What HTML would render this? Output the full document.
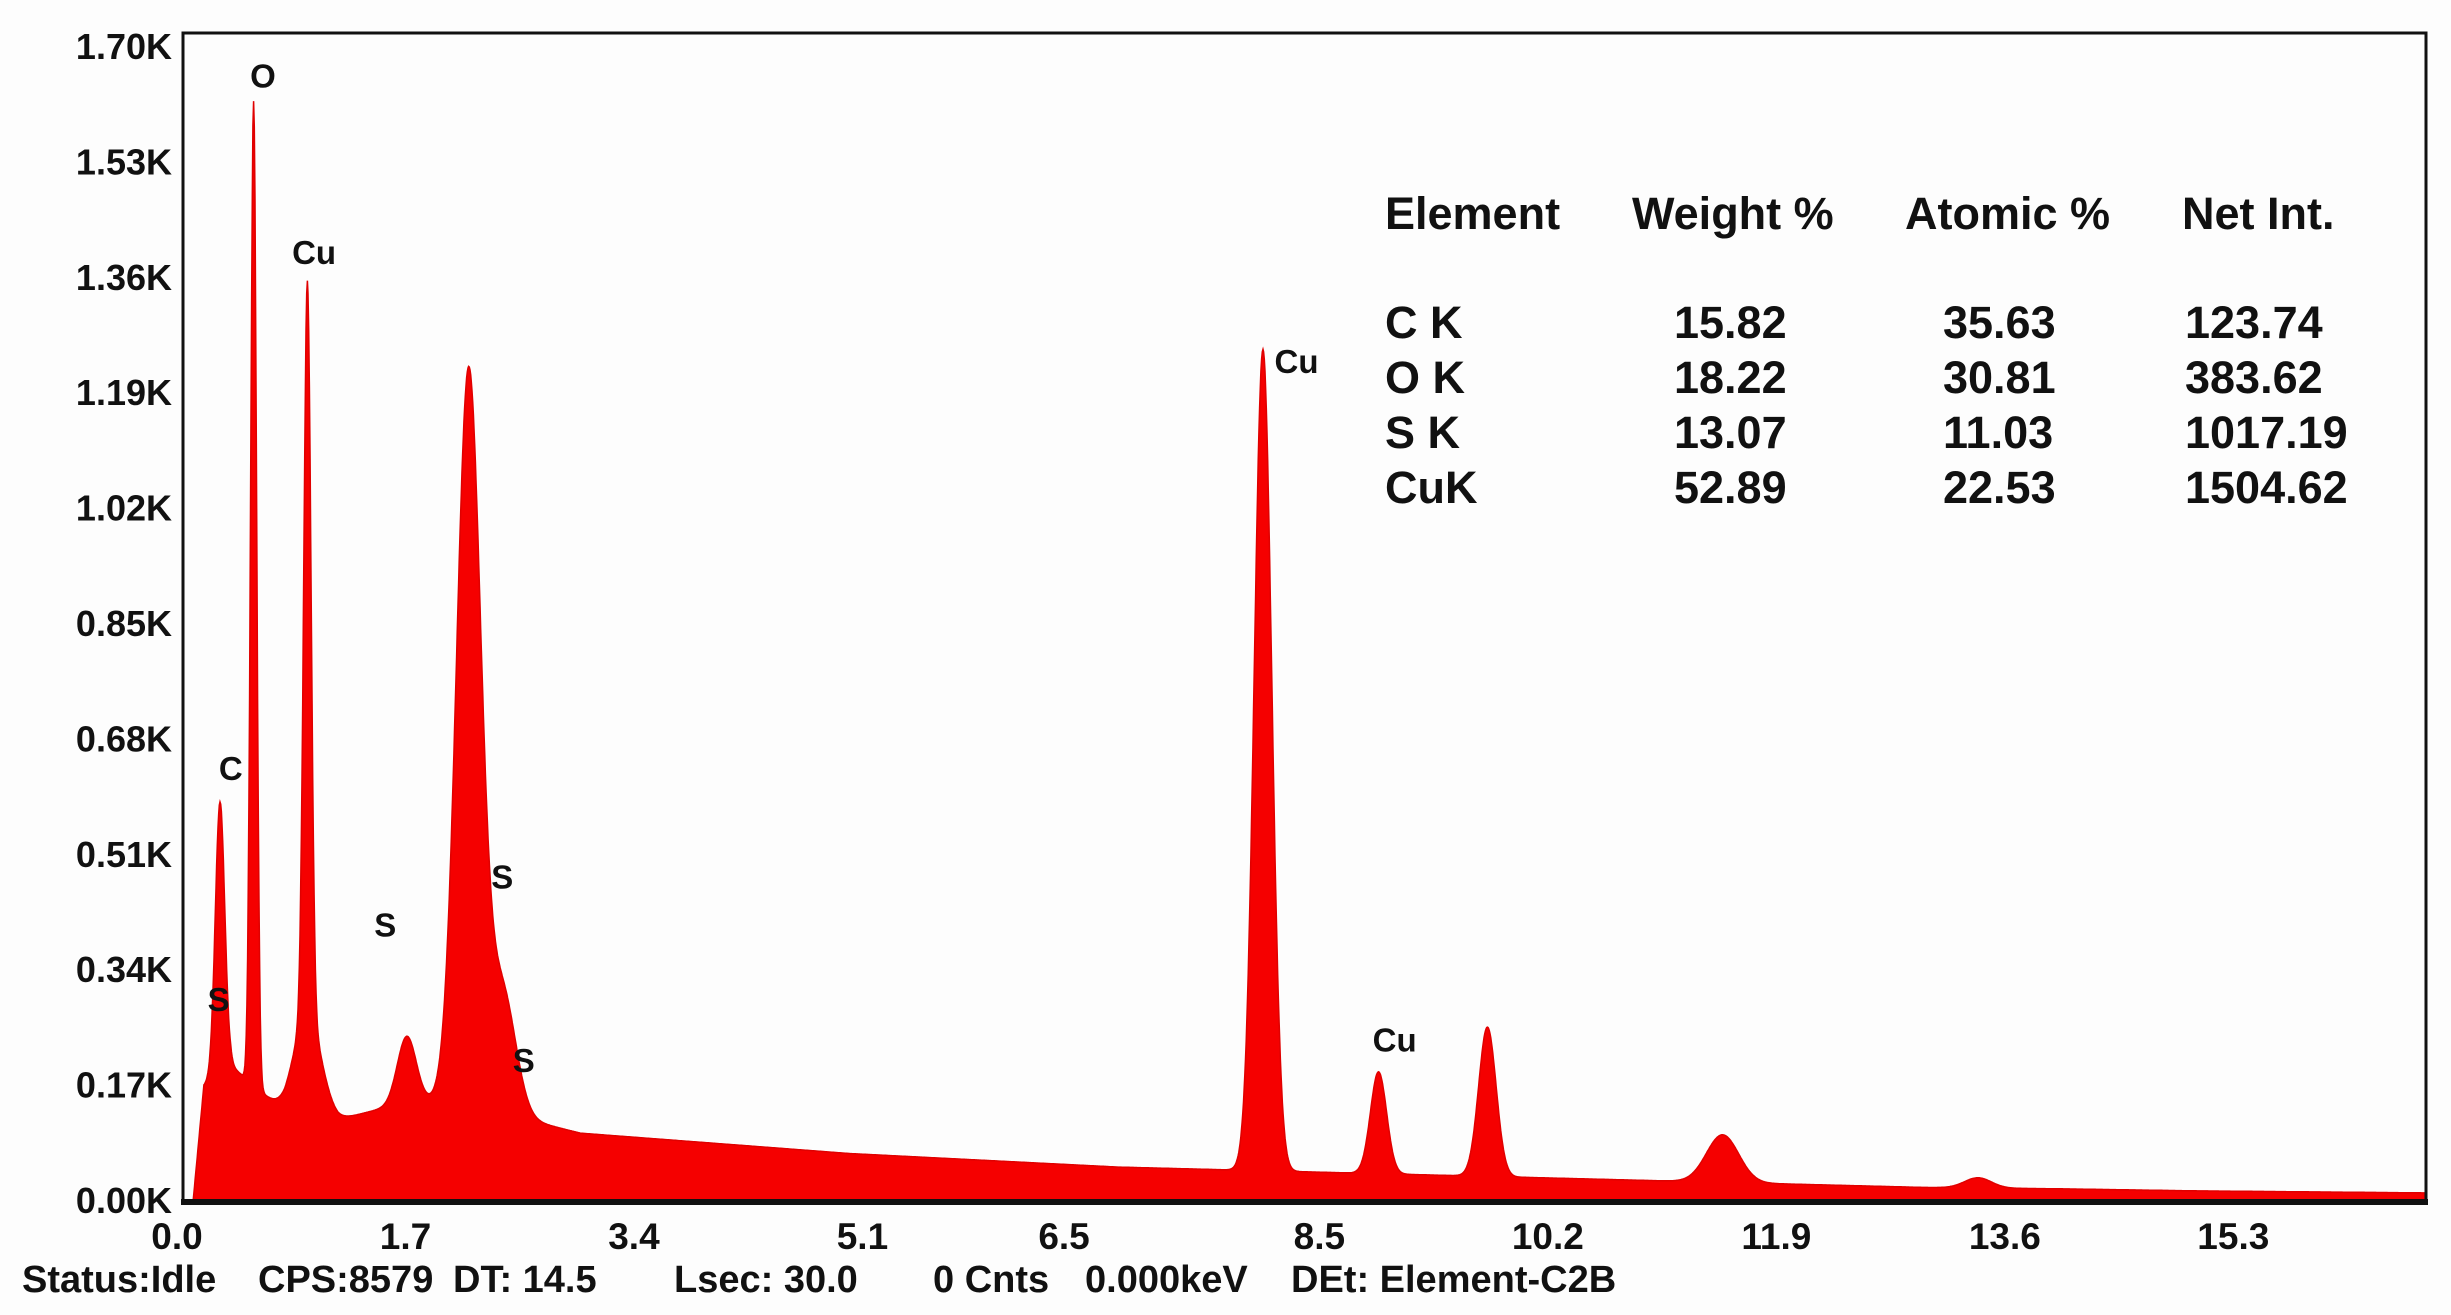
<!DOCTYPE html>
<html><head><meta charset="utf-8"><title>EDS Spectrum</title>
<style>
html,body{margin:0;padding:0;background:#fff;}
svg{display:block;font-family:"Liberation Sans",Arial,sans-serif;}
</style></head>
<body>
<svg id="chart" width="2451" height="1315" viewBox="0 0 2451 1315">
<rect x="0" y="0" width="2451" height="1315" fill="#fdfdfd"/>
<g id="spec"></g>
<g id="axes"></g>
<g id="ylabels"></g>
<g id="xlabels"></g>
<g id="peaklabels"></g>
<g font-weight="bold" font-size="45" fill="#111">
  <text x="1385" y="229">Element</text>
  <text x="1632" y="229">Weight %</text>
  <text x="1905" y="229">Atomic %</text>
  <text x="2182" y="229">Net Int.</text>
  <g id="tablerows"></g>
</g>
<g font-weight="bold" font-size="38" fill="#111">
  <text x="22" y="1292">Status:Idle</text>
  <text x="258" y="1292">CPS:8579</text>
  <text x="453" y="1292">DT: 14.5</text>
  <text x="674" y="1292">Lsec: 30.0</text>
  <text x="933" y="1292">0 Cnts</text>
  <text x="1085" y="1292">0.000keV</text>
  <text x="1291" y="1292">DEt: Element-C2B</text>
</g>
</svg>
<script>
const yTicks = ["0.00K","0.17K","0.34K","0.51K","0.68K","0.85K","1.02K","1.19K","1.36K","1.53K","1.70K"];
const yTickVals = [0,0.17,0.34,0.51,0.68,0.85,1.02,1.19,1.36,1.53,1.70];
const xTicks = ["0.0","1.7","3.4","5.1","6.5","8.5","10.2","11.9","13.6","15.3"];
const xTickVals = [0,1.7,3.4,5.1,6.6,8.5,10.2,11.9,13.6,15.3];
const bgE = [0.12,0.2,0.4,0.8,1.2,1.6,2.0,2.6,3.0,4.0,5.0,6.0,7.0,8.0,9.0,10.0,11.0,12.0,13.0,14.0,15.0,16.7];
const bgV = [0,0.17,0.2,0.13,0.12,0.14,0.15,0.12,0.10,0.085,0.07,0.06,0.05,0.045,0.04,0.035,0.03,0.025,0.02,0.018,0.015,0.012];
const peakE = [0.32,0.57,0.97,0.97,1.71,2.17,2.42,8.08,8.94,9.75,11.5,13.4];
const peakH = [0.40,1.45,1.08,0.15,0.10,1.08,0.18,1.21,0.15,0.22,0.07,0.015];
const peakW = [0.035,0.022,0.027,0.1,0.07,0.09,0.1,0.065,0.06,0.065,0.12,0.1];
const peakLabels = ["O","Cu","C","S","S","S","S","Cu","Cu"];
const peakLabelE = [0.64,1.02,0.4,0.31,1.55,2.42,2.58,8.33,9.06];
const peakLabelV = [1.64,1.38,0.62,0.28,0.39,0.46,0.19,1.22,0.22];
const tblEl = ["C K","O K","S K","CuK"];
const tblW = ["15.82","18.22","13.07","52.89"];
const tblA = ["35.63","30.81","11.03","22.53"];
const tblN = ["123.74","383.62","1017.19","1504.62"];

const NS="http://www.w3.org/2000/svg";
const X0=177, XS=134.4, Y0=1201, YTOP=47, VMAX=1.70;
const xs = e => X0 + e*XS;
const ys = v => Y0 - v/VMAX*(Y0-YTOP);
function mk(tag, parent, attrs){const el=document.createElementNS(NS,tag);for(const k in attrs)el.setAttribute(k,attrs[k]);parent.appendChild(el);return el;}
function bg(e){
  if(e<=bgE[0])return 0;
  for(let i=1;i<bgE.length;i++){if(e<=bgE[i]){const t=(e-bgE[i-1])/(bgE[i]-bgE[i-1]);return bgV[i-1]+t*(bgV[i]-bgV[i-1]);}}
  return bgV[bgV.length-1];
}
function spec(e){
  let v=bg(e);
  for(let i=0;i<peakE.length;i++){const d=(e-peakE[i])/peakW[i];v+=peakH[i]*Math.exp(-0.5*d*d);}
  if(e<bgE[0])v=0;
  return v;
}
const specG=document.getElementById('spec');
let pts=[xs(0.1)+','+Y0];
for(let e=0.1;e<=16.73;e+=0.005){pts.push(xs(e).toFixed(1)+','+ys(Math.min(spec(e),1.72)).toFixed(1));}
pts.push(xs(16.73)+','+Y0);
const poly=mk('polygon',specG,{points:pts.join(' '),fill:'#f50000',stroke:'#e00000','stroke-width':1.5});


const axG=document.getElementById('axes');
const frame=mk('path',axG,{d:`M183 ${Y0} L183 33 L2426 33 L2426 ${Y0}`,fill:'none',stroke:'#111','stroke-width':3});


const base=mk('line',axG,{x1:181,y1:Y0+1,x2:2428,y2:Y0+1,stroke:'#111','stroke-width':6});


const yl=document.getElementById('ylabels');
yTicks.forEach((t,i)=>{
  const el=mk('text',yl,{x:172,y:ys(yTickVals[i])+12,'text-anchor':'end','font-size':36,'font-weight':'bold',fill:'#111'});
  el.textContent=t;
  
  
});
const xl=document.getElementById('xlabels');
xTicks.forEach((t,i)=>{
  const el=mk('text',xl,{x:xs(xTickVals[i]),y:1249,'text-anchor':'middle','font-size':37,'font-weight':'bold',fill:'#111'});
  el.textContent=t;
  
  
});
const pl=document.getElementById('peaklabels');
peakLabels.forEach((t,i)=>{
  const el=mk('text',pl,{x:xs(peakLabelE[i]),y:ys(peakLabelV[i]),'text-anchor':'middle','font-size':33,'font-weight':'bold',fill:'#111'});
  el.textContent=t;
  
  
});
const tr=document.getElementById('tablerows');
const rowY=[338,393,448,503];
tblEl.forEach((t,i)=>{
  const cells=[[1385,t],[1674,tblW[i]],[1943,tblA[i]],[2185,tblN[i]]];
  cells.forEach(c=>{
    const el=mk('text',tr,{x:c[0],y:rowY[i]});
    el.textContent=c[1];
    
    
  });
});
</script>
</body></html>
